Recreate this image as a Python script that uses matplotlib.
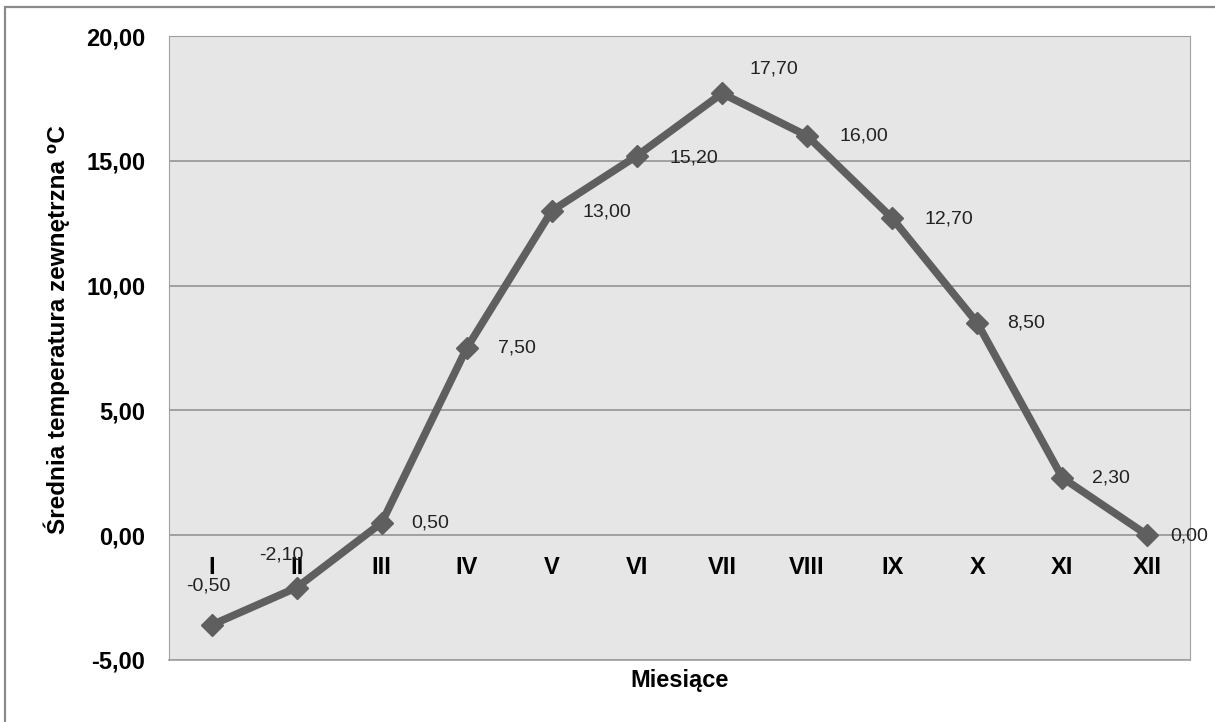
import matplotlib
matplotlib.use("Agg")
import matplotlib.pyplot as plt
from matplotlib.patches import Rectangle
from matplotlib.ticker import FuncFormatter, MultipleLocator

# dane: srednie temperatury miesieczne
months = ["I", "II", "III", "IV", "V", "VI", "VII", "VIII", "IX", "X", "XI", "XII"]
temps = [-3.6, -2.1, 0.5, 7.5, 13.0, 15.2, 17.7, 16.0, 12.7, 8.5, 2.3, 0.0]
value_labels = ["-0,50", "-2,10", "0,50", "7,50", "13,00", "15,20",
                "17,70", "16,00", "12,70", "8,50", "2,30", "0,00"]

# przesuniecia etykiet danych (piksele, lewa krawedz tekstu)
label_offsets = [(-25, 39), (-37, 33), (30, 0), (31, 0), (31, -1), (33, -2),
                 (27, 24), (32, 0), (32, -1), (30, 0), (30, 0), (23, -1)]


def main():
    plt.rcParams["font.family"] = ["Liberation Sans", "DejaVu Sans"]

    fig = plt.figure(figsize=(12.15, 7.22), dpi=100)
    ax = fig.add_axes([169 / 1215, 1 - 660 / 722, 1021 / 1215, 624 / 722])

    # ramka wykresu
    fig.patches.append(Rectangle((5 / 1215, -0.1), 1.2, 0.1 + (722 - 7) / 722,
                                 transform=fig.transFigure, fill=False,
                                 edgecolor="#8a8a8a", linewidth=1.6))

    ax.set_facecolor("#e6e6e6")
    x = range(len(months))
    ax.plot(x, temps, color="#5f5f5f", linewidth=5.5, marker="D",
            markersize=11.5, zorder=3, solid_joinstyle="round")

    for i, txt in enumerate(value_labels):
        dx, dy = label_offsets[i]
        ax.annotate(txt, (i, temps[i]), xytext=(dx * 0.72, dy * 0.72),
                    textcoords="offset points", ha="left", va="center",
                    fontsize=14, color="#222222")

    ax.set_xlim(-0.5, len(months) - 0.5)
    ax.set_ylim(-5, 20)
    ax.yaxis.set_major_locator(MultipleLocator(5))
    ax.yaxis.set_major_formatter(FuncFormatter(lambda v, p: f"{v:.2f}".replace(".", ",")))
    ax.grid(axis="y", color="#8c8c8c", linewidth=1.1)
    ax.set_axisbelow(True)

    # os kategorii przecina os Y w zerze
    ax.spines["bottom"].set_position(("data", 0))
    ax.spines["bottom"].set_visible(False)
    ax.set_xticks(list(x))
    ax.set_xticklabels(months, fontsize=17, fontweight="bold")
    ax.tick_params(axis="x", length=0, pad=15)
    ax.tick_params(axis="y", length=0, pad=17, labelsize=17)
    for lbl in ax.get_yticklabels():
        lbl.set_fontweight("bold")

    for side in ["top", "left", "right"]:
        ax.spines[side].set_color("#a0a0a0")
    ax.plot([0, 1], [0, 0], transform=ax.transAxes, color="#a0a0a0",
            linewidth=1.2, clip_on=False)

    ax.set_xlabel("Miesiące", fontsize=17, fontweight="bold")
    ax.xaxis.set_label_coords(0.5, -0.014)
    ax.set_ylabel("Średnia temperatura zewnętrzna ⁰C", fontsize=17.5,
                  fontweight="bold")
    ax.yaxis.set_label_coords(-0.097, 0.529)

    fig.savefig("out.png", dpi=100)


if __name__ == "__main__":
    main()
